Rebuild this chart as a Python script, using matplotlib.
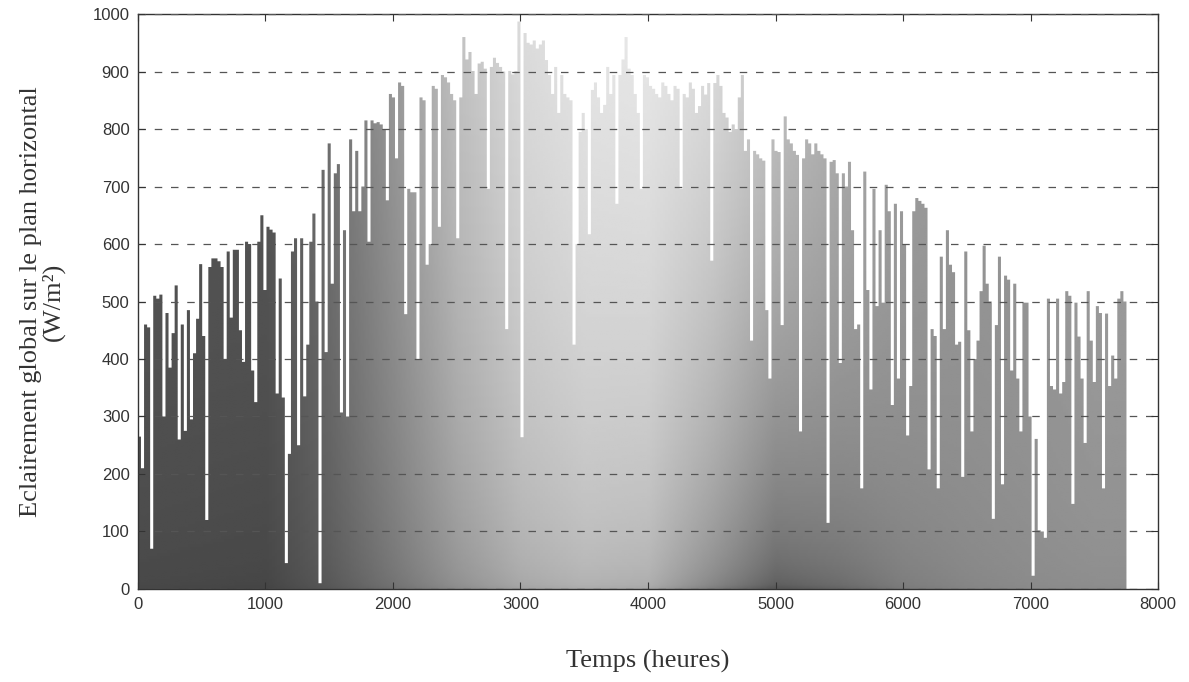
import numpy as np
import matplotlib
matplotlib.use("Agg")
import matplotlib.pyplot as plt

# daily peak of global horizontal irradiance (W/m2), one value per day (24 h)
hours_per_day = 24
winter_peaks = [
    265, 210, 460, 455, 70, 510, 505, 512, 300, 480,
    385, 445, 528, 260, 460, 275, 485, 295, 410, 470,
    565, 440, 120, 560, 575, 575, 570, 560, 400, 587,
    472, 590, 590, 450, 395, 604, 600, 380, 325, 604,
    650, 520, 630, 625, 620, 340, 540, 333, 45, 235,
    587, 610, 250, 610, 335, 425, 604, 653, 500, 10,
]
spring_peaks = [
    729, 412, 775, 531, 723, 739, 307, 624, 300, 782,
    657, 762, 657, 700, 815, 604, 815, 810, 812, 808,
    800, 676, 861, 855, 749, 881, 875, 478, 696, 690,
    690, 400, 855, 850, 564, 600, 875, 870, 630, 894,
    890, 881, 861, 850, 610, 855, 960, 921, 934, 901,
]
summer_peaks = [
    861, 914, 917, 905, 696, 908, 924, 915, 908, 900,
    452, 901, 895, 901, 987, 264, 967, 950, 947, 954,
    940, 947, 954, 920, 894, 861, 908, 828, 894, 861,
    855, 850, 425, 600, 795, 828, 800, 617, 868, 881,
    855, 828, 842, 908, 861, 894, 670, 894, 921, 960,
    905, 894, 861, 828, 696, 894, 890, 875, 870, 861,
    855, 881, 875, 861, 850, 875, 870, 696, 861, 855,
    881, 870, 828, 840, 875, 860, 880, 571, 880, 894,
]
autumn_peaks = [
    875, 828, 820, 795, 808, 800, 855, 894, 762, 782,
    432, 762, 756, 749, 745, 485, 366, 782, 762, 760,
    459, 822, 782, 775, 762, 755, 274, 749, 782, 775,
    756, 775, 762, 756, 749, 115, 743, 746, 723, 393,
    723, 700, 743, 624, 452, 460, 175, 726, 520, 347,
    696, 492, 624, 498, 703, 657, 320, 670, 366, 657,
    600, 267, 353, 657, 680, 675, 670, 663, 208, 452,
    440, 175, 578, 452, 624, 564, 551, 425, 430, 195,
    587, 450, 274, 400, 432, 518, 597, 531, 500, 122,
]
late_peaks = [
    459, 578, 182, 545, 538, 380, 531, 366, 274, 498,
    498, 300, 23, 261, 102, 100, 89, 505, 353, 347,
    505, 340, 360, 518, 510, 148, 498, 439, 366, 254,
    518, 432, 360, 492, 480, 175, 479, 353, 406, 366,
    505, 518, 500,
]

# grey shading of the scanned figure (0 = black, 1 = white)
shade_hours = [0, 1000, 1500, 2000, 2500, 3000, 3500, 4000, 4500, 5000, 5500, 6000, 6500, 7000, 7500, 8000]
shade_top = [0.34, 0.34, 0.45, 0.60, 0.76, 0.86, 0.90, 0.91, 0.87, 0.78, 0.70, 0.63, 0.60, 0.60, 0.62, 0.62]
shade_bottom = [0.28, 0.27, 0.34, 0.44, 0.55, 0.64, 0.68, 0.66, 0.50, 0.34, 0.40, 0.48, 0.52, 0.54, 0.55, 0.55]

peaks = np.array(winter_peaks + spring_peaks + summer_peaks + autumn_peaks + late_peaks, dtype=float)
edges = np.arange(len(peaks) + 1) * hours_per_day

fig = plt.figure(figsize=(11.89, 6.82), dpi=100)
ax = fig.add_axes([0.116, 0.1364, 0.858, 0.843])

xs = np.linspace(0, 8000, 400)
ys = np.linspace(0, 1000, 200)
top = np.interp(xs, shade_hours, shade_top)
bot = np.interp(xs, shade_hours, shade_bottom)
# shading darkens mostly close to the bottom axis
frac = np.sqrt(ys / 1000.0)
field = bot[None, :] + (top - bot)[None, :] * frac[:, None]

img = ax.imshow(field, extent=[0, 8000, 0, 1000], origin="lower", aspect="auto",
                cmap="gray", vmin=0, vmax=1, interpolation="bilinear", zorder=1)
fill = ax.fill_between(edges, np.r_[peaks, peaks[-1]], step="post",
                       facecolor="none", edgecolor="none", zorder=1)
img.set_clip_path(fill.get_paths()[0], ax.transData)

ax.set_xlim(0, 8000)
ax.set_ylim(0, 1000)
ax.set_xticks(range(0, 8001, 1000))
ax.set_yticks(range(0, 1001, 100))
ax.tick_params(direction="in", top=True, right=True, length=5, width=0.8,
               labelsize=12, labelcolor="#333333", color="#333333", pad=6)
for lab in ax.get_xticklabels() + ax.get_yticklabels():
    lab.set_family("Liberation Sans")

ax.set_axisbelow(False)
ax.yaxis.grid(True, linestyle=(0, (6, 7)), color="#555555", linewidth=0.9)
for sp in ax.spines.values():
    sp.set_color("#333333")
    sp.set_linewidth(1.0)

ax.set_xlabel("Temps (heures)", family="Liberation Serif", fontsize=19, color="#333333", labelpad=27)
ax.set_ylabel("Eclairement global sur le plan horizontal\n(W/m²)", family="Liberation Serif",
              fontsize=19, color="#333333", labelpad=20, linespacing=0.95)

fig.savefig("out.png", dpi=100)
